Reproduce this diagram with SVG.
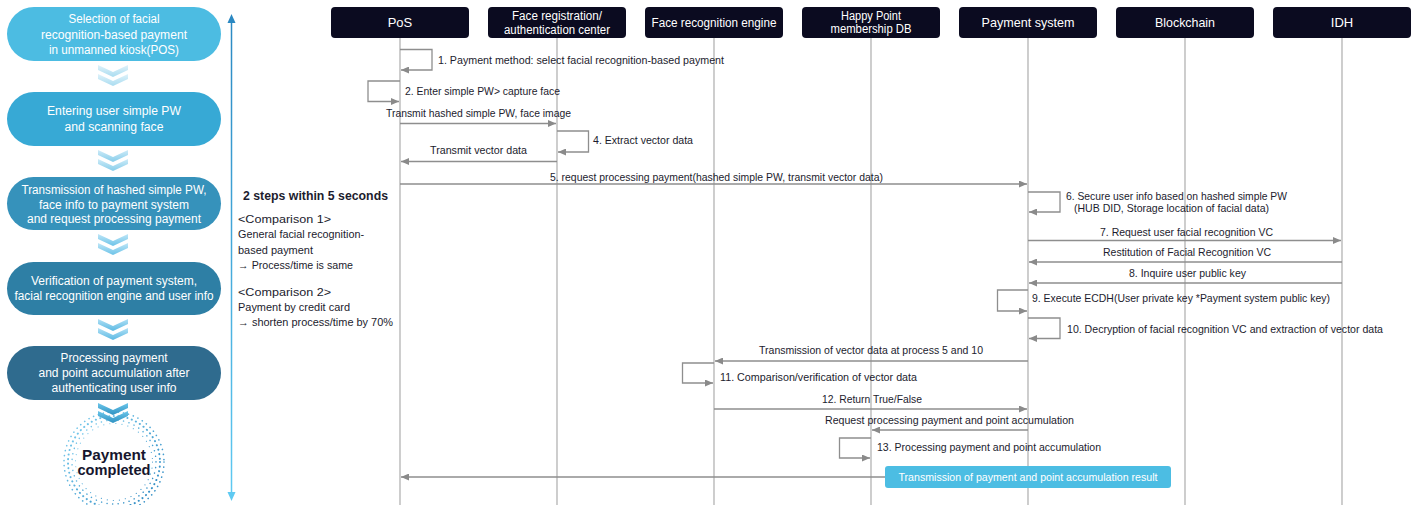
<svg xmlns="http://www.w3.org/2000/svg" width="1414" height="505" viewBox="0 0 1414 505">
  <style>
    .pill-text { font-family: "Liberation Sans", Arial, sans-serif; font-size: 12.5px; fill: #ffffff; text-anchor: middle; }
    .hdr { fill: #0b0b20; }
    .hdr-text { font-family: "Liberation Sans", Arial, sans-serif; font-size: 13px; fill: #ffffff; text-anchor: middle; }
    .hdr-small { font-family: "Liberation Sans", Arial, sans-serif; font-size: 12px; fill: #ffffff; text-anchor: middle; }
    .life { stroke: #b3b3b3; stroke-width: 1.3; fill: none; }
    .msg { stroke: #8e8e8e; stroke-width: 1.3; fill: none; marker-end: url(#head); }
    .lbl { font-family: "Liberation Sans", Arial, sans-serif; font-size: 11px; fill: #1c1c2e; }
    .note { font-family: "Liberation Sans", Arial, sans-serif; font-size: 11px; fill: #1c1c2e; }
    .note-title { font-family: "Liberation Sans", Arial, sans-serif; font-size: 13px; font-weight: bold; fill: #1c1c2e; }
  </style>
  <defs>
    <marker id="head" viewBox="0 0 8 7" refX="8" refY="3.5" markerWidth="8" markerHeight="7" markerUnits="userSpaceOnUse" orient="auto">
      <path d="M0,0 L8,3.5 L0,7 Z" fill="#8a8a8a"/>
    </marker>
    <linearGradient id="timeline" gradientUnits="userSpaceOnUse" x1="0" y1="14" x2="0" y2="501">
      <stop offset="0" stop-color="#2a88c2"/>
      <stop offset="1" stop-color="#5fcaf2"/>
    </linearGradient>
    <linearGradient id="chev1" x1="0" y1="0" x2="0" y2="1">
      <stop offset="0" stop-color="#dff2fa"/>
      <stop offset="1" stop-color="#a9dcf0"/>
    </linearGradient>
    <linearGradient id="chev2" x1="0" y1="0" x2="0" y2="1">
      <stop offset="0" stop-color="#cdebf8"/>
      <stop offset="1" stop-color="#86cdea"/>
    </linearGradient>
    <linearGradient id="chev3" x1="0" y1="0" x2="0" y2="1">
      <stop offset="0" stop-color="#bfe6f7"/>
      <stop offset="1" stop-color="#6cc3e8"/>
    </linearGradient>
    <linearGradient id="chev4" x1="0" y1="0" x2="0" y2="1">
      <stop offset="0" stop-color="#b0e0f5"/>
      <stop offset="1" stop-color="#5bb9e3"/>
    </linearGradient>
    <linearGradient id="chev5" x1="0" y1="0" x2="0" y2="1">
      <stop offset="0" stop-color="#6cc6ea"/>
      <stop offset="1" stop-color="#2f92c2"/>
    </linearGradient>
    <linearGradient id="ring" x1="0" y1="0" x2="1" y2="1">
      <stop offset="0" stop-color="#7fd0f0"/>
      <stop offset="1" stop-color="#2a86c0"/>
    </linearGradient>
    <path id="chevron" d="M-15,0 L0,7 L15,0 L15,5 L0,12 L-15,5 Z"/>
  </defs>

  <!-- process steps on the left -->
  <g id="step1">
    <rect x="7" y="7" width="214" height="54" rx="27" fill="#4cbce2"/>
    <text class="pill-text" x="114" y="23" textLength="91" lengthAdjust="spacingAndGlyphs">Selection of facial</text>
    <text class="pill-text" x="114" y="38.5" textLength="146" lengthAdjust="spacingAndGlyphs">recognition-based payment</text>
    <text class="pill-text" x="114" y="54" textLength="130" lengthAdjust="spacingAndGlyphs">in unmanned kiosk(POS)</text>
  </g>
  <g id="step2">
    <rect x="7" y="92" width="214" height="54" rx="27" fill="#37a9d5"/>
    <text class="pill-text" x="114" y="115" textLength="134" lengthAdjust="spacingAndGlyphs">Entering user simple PW</text>
    <text class="pill-text" x="114" y="131" textLength="99" lengthAdjust="spacingAndGlyphs">and scanning face</text>
  </g>
  <g id="step3">
    <rect x="7" y="177" width="214" height="53" rx="26.5" fill="#3692bb"/>
    <text class="pill-text" x="114" y="194" textLength="185" lengthAdjust="spacingAndGlyphs">Transmission of hashed simple PW,</text>
    <text class="pill-text" x="114" y="208.5" textLength="150" lengthAdjust="spacingAndGlyphs">face info to payment system</text>
    <text class="pill-text" x="114" y="223" textLength="174" lengthAdjust="spacingAndGlyphs">and request processing payment</text>
  </g>
  <g id="step4">
    <rect x="7" y="262" width="214" height="53" rx="26.5" fill="#2e7fa5"/>
    <text class="pill-text" x="114" y="285" textLength="166" lengthAdjust="spacingAndGlyphs">Verification of payment system,</text>
    <text class="pill-text" x="114" y="300" textLength="199" lengthAdjust="spacingAndGlyphs">facial recognition engine and user info</text>
  </g>
  <g id="step5">
    <rect x="7" y="346" width="214" height="54" rx="27" fill="#2f6b8e"/>
    <text class="pill-text" x="114" y="362" textLength="107" lengthAdjust="spacingAndGlyphs">Processing payment</text>
    <text class="pill-text" x="114" y="377" textLength="151" lengthAdjust="spacingAndGlyphs">and point accumulation after</text>
    <text class="pill-text" x="114" y="392" textLength="125" lengthAdjust="spacingAndGlyphs">authenticating user info</text>
  </g>

  <!-- double chevrons between steps -->
  <g id="chevrons">
    <use href="#chevron" x="113" y="65" fill="url(#chev1)"/>
    <use href="#chevron" x="113" y="74" fill="url(#chev1)"/>
    <use href="#chevron" x="113" y="150" fill="url(#chev2)"/>
    <use href="#chevron" x="113" y="159" fill="url(#chev2)"/>
    <use href="#chevron" x="113" y="234" fill="url(#chev3)"/>
    <use href="#chevron" x="113" y="243" fill="url(#chev3)"/>
    <use href="#chevron" x="113" y="319" fill="url(#chev4)"/>
    <use href="#chevron" x="113" y="328" fill="url(#chev4)"/>
  </g>

  <!-- completion badge -->
  <g id="completed">
    <g fill="none" stroke="url(#ring)" stroke-linecap="round">
      <circle cx="114" cy="462" r="50" stroke-width="1.6" stroke-dasharray="0.1 5"/>
      <circle cx="114" cy="462" r="46" stroke-width="2" stroke-dasharray="0.1 4.5"/>
      <circle cx="114" cy="462" r="42" stroke-width="1.5" stroke-dasharray="0.1 5.5"/>
      <circle cx="114" cy="462" r="38.5" stroke-width="1.1" stroke-dasharray="0.1 6"/>
    </g>
    <use href="#chevron" x="113" y="403" fill="url(#chev5)"/>
    <use href="#chevron" x="113" y="411" fill="url(#chev5)"/>
    <text x="114" y="460" font-family="'Liberation Sans', Arial, sans-serif" font-size="15.5" font-weight="bold" fill="#16162e" text-anchor="middle" textLength="64" lengthAdjust="spacingAndGlyphs">Payment</text>
    <text x="114" y="475" font-family="'Liberation Sans', Arial, sans-serif" font-size="15.5" font-weight="bold" fill="#16162e" text-anchor="middle" textLength="73" lengthAdjust="spacingAndGlyphs">completed</text>
  </g>

  <!-- time axis -->
  <g id="timeline-axis">
    <line x1="231.5" y1="21" x2="231.5" y2="494" stroke="url(#timeline)" stroke-width="1.5"/>
    <path d="M231.5,14 L235.5,23 L227.5,23 Z" fill="#2a88c2"/>
    <path d="M231.5,501 L235.5,492 L227.5,492 Z" fill="#5fcaf2"/>
  </g>

  <!-- summary notes -->
  <g id="notes">
    <text class="note-title" x="243" y="200" textLength="145" lengthAdjust="spacingAndGlyphs">2 steps within 5 seconds</text>
    <text class="note" x="238" y="223" textLength="93" lengthAdjust="spacingAndGlyphs">&lt;Comparison 1&gt;</text>
    <text class="note" x="238" y="238" textLength="126" lengthAdjust="spacingAndGlyphs">General facial recognition-</text>
    <text class="note" x="238" y="254" textLength="75" lengthAdjust="spacingAndGlyphs">based payment</text>
    <text class="note" x="238" y="269" textLength="115" lengthAdjust="spacingAndGlyphs">→ Process/time is same</text>
    <text class="note" x="238" y="296" textLength="93" lengthAdjust="spacingAndGlyphs">&lt;Comparison 2&gt;</text>
    <text class="note" x="238" y="311" textLength="112" lengthAdjust="spacingAndGlyphs">Payment by credit card</text>
    <text class="note" x="238" y="326" textLength="155" lengthAdjust="spacingAndGlyphs">→ shorten process/time by 70%</text>
  </g>

  <!-- participants -->
  <g id="pos">
    <line class="life" x1="400" y1="38" x2="400" y2="505"/>
    <rect class="hdr" x="331" y="7" width="138" height="31" rx="4"/>
    <text class="hdr-text" x="400" y="27">PoS</text>
  </g>
  <g id="face-registration">
    <line class="life" x1="557" y1="38" x2="557" y2="505"/>
    <rect class="hdr" x="488" y="7" width="138" height="31" rx="4"/>
    <text class="hdr-small" x="557" y="20" textLength="90" lengthAdjust="spacingAndGlyphs">Face registration/</text>
    <text class="hdr-small" x="557" y="33.5" textLength="106" lengthAdjust="spacingAndGlyphs">authentication center</text>
  </g>
  <g id="face-recognition">
    <line class="life" x1="714" y1="38" x2="714" y2="505"/>
    <rect class="hdr" x="645" y="7" width="138" height="31" rx="4"/>
    <text class="hdr-small" x="714" y="27" textLength="125" lengthAdjust="spacingAndGlyphs">Face recognition engine</text>
  </g>
  <g id="happy-point">
    <line class="life" x1="871" y1="38" x2="871" y2="505"/>
    <rect class="hdr" x="802" y="7" width="138" height="31" rx="4"/>
    <text class="hdr-small" x="871" y="20" font-size="11.5" textLength="60" lengthAdjust="spacingAndGlyphs">Happy Point</text>
    <text class="hdr-small" x="871" y="33" font-size="11.5" textLength="81" lengthAdjust="spacingAndGlyphs">membership DB</text>
  </g>
  <g id="payment-system">
    <line class="life" x1="1028" y1="38" x2="1028" y2="505"/>
    <rect class="hdr" x="959" y="7" width="138" height="31" rx="4"/>
    <text class="hdr-text" x="1028" y="27" textLength="93" lengthAdjust="spacingAndGlyphs">Payment system</text>
  </g>
  <g id="blockchain">
    <line class="life" x1="1185" y1="38" x2="1185" y2="505"/>
    <rect class="hdr" x="1116" y="7" width="138" height="31" rx="4"/>
    <text class="hdr-text" x="1185" y="27" textLength="60" lengthAdjust="spacingAndGlyphs">Blockchain</text>
  </g>
  <g id="idh">
    <line class="life" x1="1342" y1="38" x2="1342" y2="505"/>
    <rect class="hdr" x="1273" y="7" width="138" height="31" rx="4"/>
    <text class="hdr-text" x="1342" y="27">IDH</text>
  </g>

  <!-- messages -->
  <g id="connectors">
    <polyline class="msg" points="400,49.5 432,49.5 432,70 401,70"/>
    <polyline class="msg" points="400,81 368,81 368,101.5 399,101.5"/>
    <line class="msg" x1="400" y1="123.5" x2="556" y2="123.5"/>
    <polyline class="msg" points="557,131 588.5,131 588.5,152 558,152"/>
    <line class="msg" x1="557" y1="161.5" x2="401" y2="161.5"/>
    <line class="msg" x1="400" y1="184" x2="1027" y2="184"/>
    <polyline class="msg" points="1028,192 1060,192 1060,212 1029,212"/>
    <line class="msg" x1="1028" y1="240.5" x2="1341" y2="240.5"/>
    <line class="msg" x1="1342" y1="262" x2="1029" y2="262"/>
    <line class="msg" x1="1342" y1="283" x2="1029" y2="283"/>
    <polyline class="msg" points="1028,290 997.5,290 997.5,311 1027,311"/>
    <polyline class="msg" points="1028,318 1060,318 1060,338.5 1029,338.5"/>
    <line class="msg" x1="1028" y1="361" x2="715" y2="361"/>
    <polyline class="msg" points="714,363 682.5,363 682.5,383 713,383"/>
    <line class="msg" x1="714" y1="409" x2="1027" y2="409"/>
    <line class="msg" x1="1028" y1="430" x2="872" y2="430"/>
    <polyline class="msg" points="871,438 839.5,438 839.5,458 870,458"/>
    <line class="msg" x1="885" y1="477" x2="401" y2="477"/>
  </g>

  <!-- message labels -->
  <g id="labels">
    <text class="lbl" x="438" y="64" textLength="286" lengthAdjust="spacingAndGlyphs">1. Payment method: select facial recognition-based payment</text>
    <text class="lbl" x="405" y="95" textLength="155" lengthAdjust="spacingAndGlyphs">2. Enter simple PW&gt; capture face</text>
    <text class="lbl" x="386" y="117" textLength="185" lengthAdjust="spacingAndGlyphs">Transmit hashed simple PW, face image</text>
    <text class="lbl" x="593" y="144" textLength="100" lengthAdjust="spacingAndGlyphs">4. Extract vector data</text>
    <text class="lbl" x="430" y="154" textLength="97" lengthAdjust="spacingAndGlyphs">Transmit vector data</text>
    <text class="lbl" x="550" y="180.5" textLength="333" lengthAdjust="spacingAndGlyphs">5. request processing payment(hashed simple PW, transmit vector data)</text>
    <text class="lbl" x="1066" y="200" textLength="221" lengthAdjust="spacingAndGlyphs">6. Secure user info based on hashed simple PW</text>
    <text class="lbl" x="1074" y="211.5" textLength="195" lengthAdjust="spacingAndGlyphs">(HUB DID, Storage location of facial data)</text>
    <text class="lbl" x="1100" y="235.5" textLength="173" lengthAdjust="spacingAndGlyphs">7. Request user facial recognition VC</text>
    <text class="lbl" x="1103" y="255.5" textLength="168" lengthAdjust="spacingAndGlyphs">Restitution of Facial Recognition VC</text>
    <text class="lbl" x="1129" y="276.5" textLength="117" lengthAdjust="spacingAndGlyphs">8. Inquire user public key</text>
    <text class="lbl" x="1032" y="302" textLength="298" lengthAdjust="spacingAndGlyphs">9. Execute ECDH(User private key *Payment system public key)</text>
    <text class="lbl" x="1067" y="333" textLength="316" lengthAdjust="spacingAndGlyphs">10. Decryption of facial recognition VC and extraction of vector data</text>
    <text class="lbl" x="759" y="354" textLength="224" lengthAdjust="spacingAndGlyphs">Transmission of vector data at process 5 and 10</text>
    <text class="lbl" x="720" y="381" textLength="197" lengthAdjust="spacingAndGlyphs">11. Comparison/verification of vector data</text>
    <text class="lbl" x="822" y="403" textLength="100" lengthAdjust="spacingAndGlyphs">12. Return True/False</text>
    <text class="lbl" x="825" y="424" textLength="249" lengthAdjust="spacingAndGlyphs">Request processing payment and point accumulation</text>
    <text class="lbl" x="877" y="451" textLength="224" lengthAdjust="spacingAndGlyphs">13. Processing payment and point accumulation</text>
  </g>

  <!-- result callout -->
  <g id="result">
    <rect x="885" y="466" width="286" height="22" rx="3" fill="#4cbde3"/>
    <text x="1028" y="481" font-family="'Liberation Sans', Arial, sans-serif" font-size="11" fill="#ffffff" text-anchor="middle" textLength="259" lengthAdjust="spacingAndGlyphs">Transmission of payment and point accumulation result</text>
  </g>
</svg>
